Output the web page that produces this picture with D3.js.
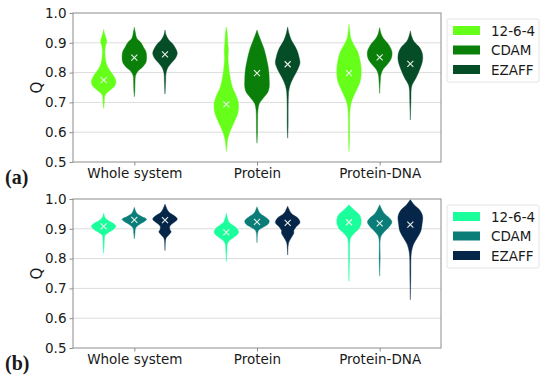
<!DOCTYPE html>
<html>
<head>
<meta charset="utf-8">
<script src="https://cdn.jsdelivr.net/npm/d3@7"></script>
<style>
  body { margin: 0; background: #fff; }
  svg text { font-family: "DejaVu Sans", sans-serif; fill: #1a1a1a; }
</style>
</head>
<body>
<div id="chart"></div>
<script>
const groups = ['Whole system', 'Protein', 'Protein-DNA']
const series = ['12-6-4', 'CDAM', 'EZAFF']
const y_ticks = [0.5, 0.6, 0.7, 0.8, 0.9, 1.0]

const colors_a = ['#66ff1a', '#0a800a', '#054d26']
const colors_b = ['#1aff9c', '#0b7d78', '#062649']

// mean (x marker) per group, per series
const means_a = [
  [0.775, 0.850, 0.861],
  [0.693, 0.798, 0.828],
  [0.798, 0.851, 0.829]
]
const means_b = [
  [0.908, 0.930, 0.929],
  [0.888, 0.923, 0.920],
  [0.922, 0.918, 0.914]
]

// violin outlines: [Q, relative density]
const violins_a = [
  [
    [[0.945,0],[0.93,0.08],[0.915,0.2],[0.903,0.25],[0.89,0.15],[0.87,0.1],[0.85,0.13],[0.83,0.22],[0.81,0.45],[0.79,0.8],[0.77,1.0],[0.755,0.9],[0.742,0.55],[0.73,0.2],[0.72,0.08],[0.70,0.05],[0.68,0]],
    [[0.952,0],[0.935,0.08],[0.915,0.2],[0.9,0.55],[0.885,0.75],[0.87,0.95],[0.853,1.0],[0.835,0.95],[0.82,0.7],[0.805,0.3],[0.79,0.1],[0.77,0.06],[0.74,0.04],[0.719,0]],
    [[0.943,0],[0.925,0.1],[0.91,0.3],[0.895,0.65],[0.88,0.88],[0.865,1.0],[0.848,0.85],[0.831,0.5],[0.814,0.2],[0.797,0.08],[0.77,0.05],[0.728,0]]
  ],
  [
    [[0.953,0],[0.93,0.08],[0.9,0.12],[0.875,0.17],[0.85,0.14],[0.825,0.18],[0.8,0.25],[0.775,0.35],[0.75,0.5],[0.725,0.78],[0.7,0.98],[0.685,1.0],[0.663,0.93],[0.63,0.6],[0.6,0.28],[0.575,0.1],[0.555,0.05],[0.535,0]],
    [[0.943,0],[0.925,0.15],[0.909,0.3],[0.876,0.6],[0.842,0.8],[0.809,0.95],[0.775,1.0],[0.753,1.0],[0.736,0.9],[0.714,0.5],[0.697,0.2],[0.675,0.08],[0.64,0.05],[0.6,0.04],[0.563,0]],
    [[0.953,0],[0.93,0.12],[0.909,0.3],[0.876,0.75],[0.848,0.95],[0.831,1.0],[0.809,0.8],[0.786,0.5],[0.764,0.25],[0.742,0.1],[0.72,0.06],[0.68,0.04],[0.62,0.035],[0.58,0]]
  ],
  [
    [[0.962,0],[0.94,0.06],[0.915,0.15],[0.893,0.4],[0.871,0.7],[0.837,0.92],[0.803,1.0],[0.769,0.9],[0.736,0.55],[0.702,0.2],[0.674,0.08],[0.64,0.05],[0.58,0.04],[0.535,0]],
    [[0.951,0],[0.93,0.12],[0.915,0.3],[0.893,0.75],[0.87,1.0],[0.848,0.95],[0.826,0.6],[0.809,0.25],[0.792,0.1],[0.77,0.05],[0.73,0]],
    [[0.94,0],[0.92,0.12],[0.904,0.3],[0.882,0.8],[0.859,1.0],[0.837,0.98],[0.809,0.75],[0.781,0.45],[0.759,0.15],[0.742,0.07],[0.71,0.05],[0.641,0]]
  ]
]

const violins_b = [
  [
    [[0.952,0],[0.935,0.15],[0.927,0.4],[0.918,0.8],[0.909,1.0],[0.898,0.8],[0.888,0.4],[0.879,0.12],[0.868,0.06],[0.845,0.04],[0.818,0]],
    [[0.972,0],[0.952,0.2],[0.941,0.6],[0.932,1.0],[0.924,0.8],[0.913,0.35],[0.902,0.1],[0.885,0.05],[0.866,0]],
    [[0.983,0],[0.957,0.3],[0.941,0.85],[0.932,1.0],[0.92,0.7],[0.909,0.4],[0.898,0.4],[0.89,0.5],[0.881,0.35],[0.871,0.12],[0.862,0.05],[0.827,0]]
  ],
  [
    [[0.952,0],[0.924,0.2],[0.913,0.5],[0.902,0.85],[0.888,1.0],[0.874,0.7],[0.862,0.3],[0.851,0.1],[0.83,0.05],[0.79,0]],
    [[0.974,0],[0.952,0.25],[0.939,0.7],[0.927,1.0],[0.916,0.9],[0.905,0.5],[0.896,0.15],[0.885,0.05],[0.853,0]],
    [[0.976,0],[0.952,0.3],[0.935,0.85],[0.92,1.0],[0.907,0.7],[0.894,0.5],[0.885,0.5],[0.874,0.35],[0.857,0.12],[0.846,0.05],[0.812,0]]
  ],
  [
    [[0.981,0],[0.964,0.4],[0.947,0.85],[0.925,1.0],[0.903,0.85],[0.886,0.45],[0.871,0.15],[0.858,0.07],[0.8,0.04],[0.724,0]],
    [[0.981,0],[0.953,0.35],[0.936,0.8],[0.923,1.0],[0.908,0.8],[0.891,0.4],[0.878,0.15],[0.864,0.05],[0.8,0.04],[0.741,0]],
    [[0.998,0],[0.981,0.3],[0.964,0.75],[0.942,1.0],[0.914,0.95],[0.892,0.85],[0.869,0.55],[0.847,0.25],[0.824,0.1],[0.802,0.05],[0.74,0.035],[0.662,0]]
  ]
]

const svg_width = 550,
      svg_height = 380,
      plot_left = 73,
      plot_right = 441,
      panel_height = 149,
      series_offset = 0.25,
      violin_half_width = 0.1,
      spine_color = '#8c8c8c',
      grid_color = '#dcdcdc'

const svg = d3.select('#chart')
  .append('svg')
  .attr('width', svg_width)
  .attr('height', svg_height)

function draw_panel(top, violins, means, colors, tag) {
  const x = d3.scaleLinear().domain([0.5, 3.5]).range([plot_left, plot_right])
  const y = d3.scaleLinear().domain([0.5, 1.0]).range([top + panel_height, top])

  const g = svg.append('g')

  // grid
  g.append('g').selectAll('line')
    .data(y_ticks.slice(1, -1))
    .join('line')
    .attr('x1', plot_left).attr('x2', plot_right)
    .attr('y1', d => y(d)).attr('y2', d => y(d))
    .style('stroke', grid_color)
    .style('stroke-width', 1)

  // violins
  groups.forEach((grp, gi) => {
    series.forEach((s, si) => {
      const pos = gi + 1 + (si - 1) * series_offset
      const area = d3.area()
        .y(d => y(d[0]))
        .x0(d => x(pos - d[1] * violin_half_width))
        .x1(d => x(pos + d[1] * violin_half_width))
        .curve(d3.curveCatmullRom.alpha(0.5))
      g.append('path')
        .datum(violins[gi][si])
        .attr('d', area)
        .style('fill', colors[si])
        .style('stroke', colors[si])
        .style('stroke-width', 0.4)

      // mean marker
      const cx = x(pos), cy = y(means[gi][si]), r = 3
      g.append('path')
        .attr('d', `M${cx - r},${cy - r}L${cx + r},${cy + r}M${cx - r},${cy + r}L${cx + r},${cy - r}`)
        .style('stroke', '#e8f0e8')
        .style('stroke-width', 1.1)
    })
  })

  // axes
  const y_axis = g.append('g')
    .attr('transform', `translate(${plot_left},0)`)
    .call(d3.axisLeft(y).tickValues(y_ticks).tickFormat(d3.format('.1f')).tickSize(3.5).tickPadding(3))
  const x_axis = g.append('g')
    .attr('transform', `translate(0,${top + panel_height})`)
    .call(d3.axisBottom(x).tickValues([1, 2, 3]).tickFormat((d, i) => groups[i]).tickSize(3.5).tickPadding(3))

  for (const ax of [y_axis, x_axis]) {
    ax.select('.domain').remove()
    ax.selectAll('line').style('stroke', spine_color)
    ax.selectAll('text').style('font-size', '13.5px').style('fill', '#1a1a1a')
  }

  // frame
  g.append('rect')
    .attr('x', plot_left).attr('y', top)
    .attr('width', plot_right - plot_left).attr('height', panel_height)
    .style('fill', 'none')
    .style('stroke', spine_color)
    .style('stroke-width', 1)

  g.append('text')
    .attr('transform', `translate(42,${top + panel_height / 2}) rotate(-90)`)
    .attr('text-anchor', 'middle')
    .style('font-size', '15px')
    .text('Q')

  g.append('text')
    .attr('x', 5)
    .attr('y', top + panel_height + 22)
    .style('font-family', '"Liberation Serif", serif')
    .style('font-weight', 'bold')
    .style('font-size', '20px')
    .text(tag)

  // legend
  const lg = g.append('g').attr('transform', `translate(447,${top + 6})`)
  lg.append('rect')
    .attr('width', 92).attr('height', 63)
    .attr('rx', 2)
    .style('fill', '#fff')
    .style('stroke', '#e4e4e4')
  series.forEach((s, si) => {
    lg.append('rect')
      .attr('x', 6).attr('y', 7 + si * 19.5)
      .attr('width', 27).attr('height', 9)
      .style('fill', colors[si])
    lg.append('text')
      .attr('x', 44).attr('y', 16.5 + si * 19.5)
      .style('font-size', '13.5px')
      .text(s)
  })
}

draw_panel(13, violins_a, means_a, colors_a, '(a)')
draw_panel(199, violins_b, means_b, colors_b, '(b)')
</script>
</body>
</html>
